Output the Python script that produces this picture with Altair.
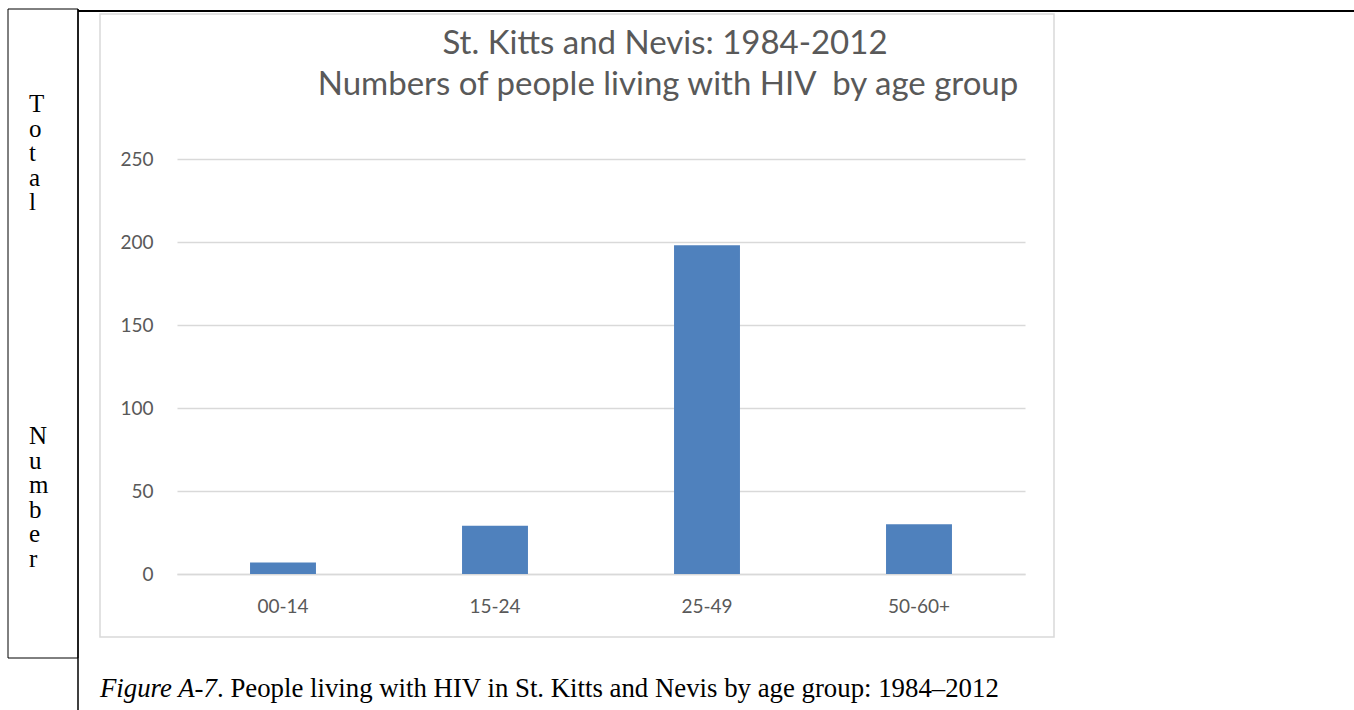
import altair as alt
import pandas as pd

# Data
age_groups = ["00-14", "15-24", "25-49", "50-60+"]
people = [7, 29, 198, 30]
y_ticks = [0, 50, 100, 150, 200, 250]

title_lines = ["St. Kitts and Nevis: 1984-2012",
               "Numbers of people living with HIV\u00a0 by age group"]
caption_italic = "Figure A-7"
caption_rest = ". People living with HIV in St. Kitts and Nevis by age group: 1984\u20132012"
side_top = "T\no\nt\na\nl"
side_bottom = "N\nu\nm\nb\ne\nr"

df = pd.DataFrame({"age": age_groups, "people": people})
one = pd.DataFrame({"k": [0]})

# Plot-area origin inside the page
L, T = 177, 159
W, H = 848, 415
SANS = "Lato"
SERIF = "Liberation Serif"
GREY_TXT = "#595959"
GREY_LINE = "#d9d9d9"


def px(x):
    return x - L


def py(y):
    return y - T


# Document-style frame: table cell on the left, rule across the top, chart border
cell = alt.Chart(one).mark_rect(fillOpacity=0, stroke="black", strokeWidth=1).encode(
    x=alt.value(px(8)), x2=alt.value(px(78)), y=alt.value(py(9)), y2=alt.value(py(658)))
cell_line = alt.Chart(one).mark_rule(color="black", strokeWidth=1.5).encode(
    x=alt.value(px(78)), x2=alt.value(px(78)), y=alt.value(py(9)), y2=alt.value(py(710)))
top_line = alt.Chart(one).mark_rule(color="black", strokeWidth=2).encode(
    x=alt.value(px(78)), x2=alt.value(px(1354)), y=alt.value(py(11)), y2=alt.value(py(11)))
chart_box = alt.Chart(one).mark_rect(fillOpacity=0, stroke=GREY_LINE, strokeWidth=1.5).encode(
    x=alt.value(px(100)), x2=alt.value(px(1054)), y=alt.value(py(14)), y2=alt.value(py(637)))

side_a = alt.Chart(one).mark_text(
    text=side_top, lineBreak="\n", lineHeight=24.5, font=SERIF, fontSize=25,
    align="left", baseline="alphabetic", color="black").encode(
    x=alt.value(px(29)), y=alt.value(py(112)))
side_b = alt.Chart(one).mark_text(
    text=side_bottom, lineBreak="\n", lineHeight=24.6, font=SERIF, fontSize=25,
    align="left", baseline="alphabetic", color="black").encode(
    x=alt.value(px(29)), y=alt.value(py(444)))

title1 = alt.Chart(one).mark_text(
    text=title_lines[0], font=SANS, fontSize=33, color=GREY_TXT,
    align="center", baseline="middle").encode(x=alt.value(px(665)), y=alt.value(py(44)))
title2 = alt.Chart(one).mark_text(
    text=title_lines[1], font=SANS, fontSize=33, color=GREY_TXT,
    align="center", baseline="middle").encode(x=alt.value(px(668)), y=alt.value(py(85)))

cap1 = alt.Chart(one).mark_text(
    text=caption_italic, font=SERIF, fontSize=26.8, fontStyle="italic", color="black",
    align="left", baseline="alphabetic").encode(x=alt.value(px(100)), y=alt.value(py(697)))
cap2 = alt.Chart(one).mark_text(
    text=caption_rest, font=SERIF, fontSize=26.8, color="black",
    align="left", baseline="alphabetic").encode(x=alt.value(px(217)), y=alt.value(py(697)))

bars = alt.Chart(df).mark_bar(color="#4f81bd").encode(
    x=alt.X("age:N", sort=age_groups,
            scale=alt.Scale(paddingInner=0.689, paddingOuter=0.3445),
            axis=alt.Axis(title=None, labelAngle=0, labelFont=SANS, labelFontSize=19,
                          labelColor=GREY_TXT, labelPadding=23, ticks=False,
                          domainColor=GREY_LINE, domainWidth=1.5)),
    y=alt.Y("people:Q", scale=alt.Scale(domain=[0, 250], nice=False),
            axis=alt.Axis(title=None, values=y_ticks, grid=True, gridColor=GREY_LINE,
                          gridWidth=1.5, domain=False, ticks=False, labelPadding=24,
                          labelFont=SANS, labelFontSize=19, labelColor=GREY_TXT)),
)

chart = alt.layer(
    chart_box, bars, cell, cell_line, top_line, side_a, side_b, title1, title2, cap1, cap2
).properties(
    width=W, height=H,
    padding={"left": L, "top": T, "right": 1354 - L - W, "bottom": 710 - T - H},
    autosize=alt.AutoSizeParams(type="none"),
).configure(background="white").configure_view(strokeWidth=0)

chart.save("out.html", embed_options={"renderer": "svg", "actions": False})
